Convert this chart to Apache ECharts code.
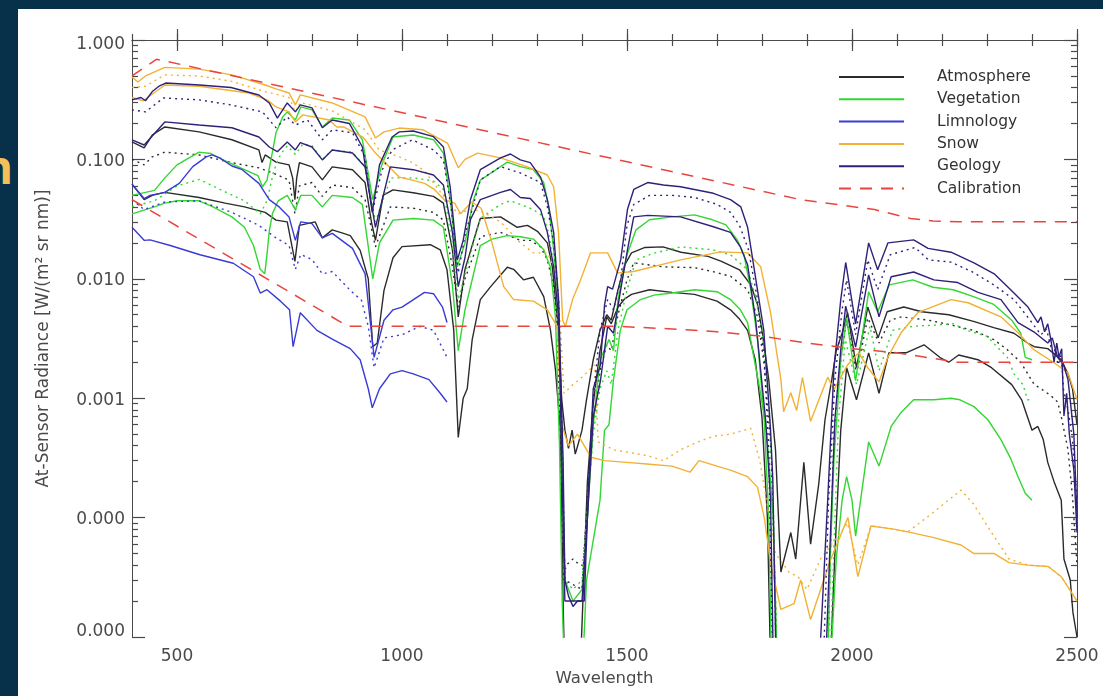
<!DOCTYPE html>
<html>
<head>
<meta charset="utf-8">
<script src="https://cdn.jsdelivr.net/npm/echarts@6/dist/echarts.min.js"></script>
<style>
  html, body { margin: 0; padding: 0; background: #07304a; width: 1103px; height: 696px; overflow: hidden; }
  #panel { position: absolute; left: 18px; top: 9px; width: 1085px; height: 687px; background: #fff; }
  #chart { position: absolute; left: 0; top: 0; width: 1103px; height: 696px; }
  #edge { position: absolute; left: -17px; top: 143px; font: bold 46px "Noto Sans", sans-serif; line-height: 46px; color: #f4c05a; }
</style>
</head>
<body>
<div id="edge">n</div>
<div id="panel"></div>
<div id="chart"></div>
<script>
// spectra: [wavelength nm, radiance]; values under 1e-5 are below the plot floor
const legendNames = ['Atmosphere', 'Vegetation', 'Limnology', 'Snow', 'Geology', 'Calibration'];
const xMajor = [500, 1000, 1500, 2000, 2500];

const atmosHigh = [[400,0.14],[427,0.125],[445,0.16],[473,0.187],[549,0.17],[622,0.146],[682,0.12],[689,0.094],[696,0.109],[720,0.095],[749,0.09],[757,0.07],[762,0.046],[766,0.07],[772,0.094],[800,0.0865],[823,0.0674],[845,0.0865],[890,0.082],[918,0.064],[932,0.03],[941,0.021],[958,0.05],[980,0.0556],[1025,0.0525],[1070,0.049],[1092,0.043],[1112,0.0175],[1125,0.0048],[1140,0.012],[1168,0.027],[1174,0.032],[1219,0.033],[1256,0.027],[1279,0.028],[1301,0.025],[1323,0.02],[1334,0.0126],[1345,0.0048],[1355,0.00097],[1362,0.00054],[1370,0.00038],[1378,0.00054],[1385,0.00034],[1392,0.00042],[1400,0.00054],[1410,0.00097],[1425,0.0021],[1440,0.0037],[1455,0.005],[1465,0.0045],[1480,0.0081],[1495,0.0131],[1510,0.0165],[1540,0.0183],[1580,0.0185],[1620,0.0167],[1680,0.0154],[1710,0.014],[1750,0.0119],[1775,0.0089],[1790,0.0061],[1800,0.0037],[1815,0.00143],[1830,0.00037],[1842,0.000035],[1864,0.000075],[1875,0.000045],[1893,0.00029],[1908,0.00006],[1926,0.00019],[1940,0.00066],[1955,0.00143],[1965,0.0025],[1980,0.0037],[1990,0.0052],[2010,0.0018],[2035,0.0058],[2058,0.0032],[2078,0.0053],[2115,0.0058],[2155,0.0053],[2215,0.005],[2270,0.0044],[2315,0.0039],[2360,0.0035],[2390,0.0029],[2405,0.0027],[2435,0.0026],[2465,0.0021],[2480,0.0016],[2490,0.0012],[2500,0.0006]];
const atmosMid = [[400,0.1],[427,0.09],[445,0.105],[473,0.115],[549,0.109],[622,0.094],[682,0.085],[720,0.075],[749,0.067],[762,0.035],[772,0.06],[800,0.064],[823,0.049],[845,0.061],[890,0.058],[918,0.046],[941,0.0185],[974,0.04],[1025,0.039],[1070,0.036],[1092,0.031],[1112,0.0126],[1125,0.0058],[1140,0.01],[1174,0.0225],[1219,0.0245],[1263,0.021],[1285,0.021],[1308,0.0185],[1323,0.0144],[1337,0.0086],[1345,0.004],[1352,0.0004],[1358,0.00003],[1365,0.00004],[1380,0.000045],[1395,0.00004],[1402,0.00004],[1410,0.0001],[1425,0.0006],[1440,0.0017],[1455,0.0028],[1465,0.0025],[1480,0.005],[1500,0.0098],[1515,0.0136],[1580,0.0126],[1650,0.0124],[1690,0.0115],[1730,0.0105],[1768,0.0081],[1790,0.0048],[1805,0.0019],[1820,0.00037],[1830,0.00002],[1835,0.000004],[1945,0.000004],[1952,0.00005],[1960,0.00054],[1975,0.0021],[1988,0.0045],[2010,0.0016],[2035,0.0047],[2060,0.0029],[2085,0.0045],[2110,0.0048],[2170,0.0045],[2220,0.0041],[2270,0.0037],[2315,0.0031],[2345,0.00255],[2375,0.002],[2405,0.0013],[2420,0.0012],[2442,0.00105],[2457,0.00093],[2465,0.0007],[2480,0.00037],[2490,0.00015],[2500,0.00004]];
const atmosLow = [[400,0.062],[427,0.046],[445,0.05],[473,0.053],[549,0.048],[607,0.043],[650,0.04],[696,0.036],[720,0.031],[745,0.03],[762,0.014],[772,0.028],[807,0.03],[823,0.022],[845,0.0257],[870,0.024],[885,0.023],[907,0.0173],[925,0.01],[935,0.0027],[945,0.0029],[960,0.008],[980,0.015],[1000,0.0186],[1063,0.0193],[1085,0.0175],[1100,0.0119],[1115,0.0037],[1125,0.00047],[1136,0.001],[1145,0.0012],[1156,0.0031],[1174,0.0067],[1197,0.0086],[1234,0.0125],[1248,0.012],[1270,0.0098],[1292,0.0103],[1315,0.0071],[1330,0.0037],[1341,0.00173],[1352,0.00054],[1358,0.00002],[1362,0.000004],[1395,0.000004],[1402,0.00002],[1412,0.0002],[1425,0.0009],[1440,0.0025],[1455,0.0048],[1465,0.0042],[1480,0.0058],[1495,0.0068],[1510,0.0074],[1550,0.0081],[1600,0.0077],[1650,0.0074],[1700,0.0065],[1730,0.0055],[1750,0.0046],[1768,0.0037],[1785,0.0021],[1800,0.00069],[1812,0.0001],[1820,0.000004],[1950,0.000004],[1962,0.00005],[1975,0.00054],[1988,0.0018],[2010,0.00097],[2037,0.0024],[2060,0.0011],[2082,0.0024],[2120,0.0024],[2160,0.0028],[2195,0.0022],[2215,0.002],[2237,0.0023],[2280,0.0021],[2310,0.0018],[2355,0.0013],[2377,0.00097],[2400,0.00054],[2413,0.00058],[2425,0.00045],[2435,0.00029],[2449,0.0002],[2465,0.00014],[2471,0.000045],[2485,0.00003],[2491,0.000016],[2500,0.00001]];

const vegHigh = [[400,0.05],[450,0.055],[473,0.07],[500,0.09],[549,0.115],[575,0.112],[600,0.1],[650,0.082],[680,0.073],[690,0.059],[700,0.067],[710,0.105],[720,0.167],[735,0.227],[745,0.25],[763,0.214],[775,0.275],[800,0.26],[823,0.187],[845,0.222],[883,0.214],[912,0.146],[935,0.046],[955,0.09],[980,0.154],[1025,0.16],[1070,0.146],[1092,0.113],[1107,0.046],[1123,0.0126],[1140,0.02],[1159,0.046],[1174,0.067],[1219,0.087],[1234,0.095],[1263,0.087],[1292,0.082],[1315,0.064],[1326,0.04],[1337,0.0175],[1348,0.0058],[1356,0.0003],[1362,0.00003],[1380,0.00002],[1400,0.000025],[1412,0.0001],[1425,0.0006],[1440,0.0021],[1460,0.0031],[1470,0.0025],[1480,0.0067],[1500,0.0159],[1520,0.0257],[1550,0.0312],[1600,0.033],[1650,0.0343],[1690,0.0312],[1720,0.0283],[1745,0.0212],[1760,0.0159],[1775,0.0081],[1790,0.0031],[1805,0.00066],[1815,0.0001],[1822,0.000004],[1945,0.000004],[1952,0.00005],[1960,0.00031],[1975,0.0021],[1988,0.0047],[2008,0.0014],[2037,0.0078],[2057,0.0053],[2083,0.0089],[2135,0.0098],[2180,0.0085],[2225,0.0081],[2270,0.0071],[2315,0.0061],[2355,0.0045],[2375,0.0035],[2385,0.0022],[2400,0.0021]];
const vegMid = [[400,0.04],[450,0.045],[500,0.06],[550,0.068],[600,0.055],[650,0.045],[685,0.035],[700,0.045],[715,0.08],[730,0.11],[745,0.13],[763,0.11],[780,0.135],[800,0.13],[823,0.1],[845,0.12],[890,0.115],[918,0.087],[941,0.03],[975,0.07],[1025,0.07],[1070,0.066],[1092,0.056],[1110,0.021],[1125,0.0067],[1150,0.015],[1174,0.032],[1219,0.042],[1240,0.045],[1263,0.042],[1292,0.038],[1315,0.033],[1326,0.024],[1337,0.013],[1348,0.004],[1356,0.0002],[1362,0.00003],[1380,0.000025],[1400,0.00003],[1412,0.00012],[1425,0.0005],[1440,0.0012],[1455,0.0017],[1465,0.0013],[1480,0.0037],[1500,0.0081],[1520,0.0144],[1560,0.0164],[1620,0.0185],[1690,0.0175],[1730,0.0159],[1768,0.0119],[1785,0.0073],[1800,0.0037],[1815,0.00097],[1825,0.00014],[1832,0.000004],[1950,0.000004],[1960,0.00006],[1970,0.00066],[1985,0.0031],[2010,0.0013],[2040,0.004],[2060,0.0017],[2090,0.0037],[2135,0.004],[2185,0.0041],[2225,0.0042],[2255,0.0037],[2300,0.0033],[2345,0.0022],[2360,0.0016],[2380,0.0013],[2390,0.00097],[2400,0.00097]];
const vegLow = [[400,0.035],[430,0.038],[450,0.04],[473,0.043],[500,0.045],[549,0.045],[580,0.04],[622,0.033],[650,0.027],[670,0.019],[685,0.012],[695,0.011],[700,0.016],[705,0.025],[712,0.035],[725,0.045],[745,0.05],[763,0.038],[775,0.05],[800,0.05],[823,0.04],[845,0.05],[890,0.048],[912,0.042],[935,0.01],[950,0.02],[980,0.031],[1025,0.032],[1070,0.031],[1092,0.027],[1112,0.0089],[1125,0.0025],[1140,0.0055],[1174,0.019],[1200,0.0215],[1234,0.023],[1263,0.0225],[1292,0.0215],[1315,0.0175],[1330,0.0125],[1341,0.0048],[1350,0.0004],[1356,0.00002],[1362,0.000004],[1400,0.000004],[1410,0.00003],[1420,0.00005],[1440,0.00014],[1450,0.00054],[1460,0.0006],[1470,0.00143],[1485,0.0037],[1500,0.0055],[1530,0.0067],[1560,0.0073],[1600,0.0076],[1650,0.0081],[1700,0.0078],[1730,0.0067],[1752,0.0055],[1768,0.0043],[1780,0.0024],[1795,0.0012],[1810,0.00054],[1825,0.0001],[1835,0.000004],[1950,0.000004],[1965,0.000045],[1978,0.00014],[1988,0.00022],[2000,0.00014],[2008,0.00007],[2037,0.00043],[2060,0.00027],[2087,0.00058],[2109,0.00076],[2137,0.00097],[2182,0.00097],[2220,0.001],[2240,0.00097],[2271,0.00085],[2302,0.00066],[2331,0.00045],[2353,0.00031],[2369,0.00022],[2385,0.00016],[2400,0.00014]];

const limnoHigh = [[400,0.062],[427,0.047],[440,0.05],[473,0.053],[505,0.063],[535,0.087],[565,0.105],[578,0.109],[595,0.103],[622,0.088],[645,0.082],[682,0.063],[705,0.046],[727,0.04],[749,0.033],[763,0.021],[775,0.03],[800,0.029],[823,0.022],[845,0.024],[890,0.018],[918,0.011],[938,0.0022],[960,0.0045],[980,0.0055],[1000,0.0058],[1050,0.0077],[1070,0.0075],[1090,0.0058],[1100,0.0043]];
const limnoMid = [[400,0.046],[427,0.038],[473,0.044],[549,0.045],[622,0.036],[682,0.028],[720,0.022],[749,0.019],[763,0.012],[775,0.016],[800,0.0145],[823,0.011],[845,0.0115],[885,0.008],[910,0.0066],[925,0.004],[938,0.0018],[960,0.0032],[1000,0.0034],[1040,0.004],[1070,0.0037],[1100,0.0022]];
const limnoLow = [[400,0.027],[427,0.021],[440,0.0212],[485,0.019],[551,0.0159],[625,0.0135],[670,0.0104],[685,0.0076],[700,0.0081],[730,0.0065],[750,0.0055],[758,0.0027],[774,0.0052],[811,0.0037],[847,0.0031],[885,0.0026],[907,0.0021],[925,0.0012],[934,0.00083],[950,0.0012],[974,0.0016],[1000,0.0017],[1025,0.0016],[1060,0.00143],[1085,0.0011],[1100,0.00093]];

const snowHigh = [[400,0.49],[413,0.445],[430,0.5],[473,0.59],[549,0.57],[622,0.51],[696,0.42],[720,0.39],[749,0.36],[763,0.286],[774,0.347],[845,0.297],[918,0.227],[941,0.151],[960,0.17],[994,0.183],[1047,0.177],[1101,0.137],[1125,0.085],[1140,0.1],[1168,0.113],[1219,0.103],[1279,0.0865],[1323,0.074],[1337,0.059],[1348,0.024],[1357,0.0045],[1363,0.004],[1379,0.0067],[1397,0.0098],[1419,0.0165],[1457,0.0165],[1479,0.0112],[1515,0.0115],[1619,0.0144],[1708,0.0168],[1768,0.0165],[1797,0.0126],[1819,0.0052],[1842,0.00143],[1848,0.00077],[1864,0.00111],[1877,0.00079],[1890,0.00149],[1908,0.00064],[1946,0.0015],[1960,0.00118],[1990,0.0019],[2015,0.0024],[2035,0.0018],[2060,0.00137],[2080,0.00222],[2109,0.00353],[2146,0.0052],[2220,0.0067],[2258,0.0063],[2331,0.0048],[2369,0.00353],[2404,0.00255],[2449,0.00198],[2480,0.00163],[2500,0.00097]];
const snowMid = [[400,0.4],[430,0.41],[473,0.51],[549,0.5],[622,0.45],[696,0.37],[749,0.33],[763,0.25],[774,0.3],[845,0.255],[918,0.177],[949,0.12],[994,0.105],[1023,0.094],[1050,0.08],[1100,0.045],[1125,0.035],[1150,0.038],[1174,0.037],[1219,0.03],[1263,0.02],[1292,0.0165],[1323,0.0165],[1340,0.012],[1352,0.004],[1360,0.0011],[1380,0.0013],[1400,0.0015],[1428,0.0019],[1436,0.00043],[1470,0.00037],[1546,0.00033],[1581,0.0003],[1619,0.00037],[1657,0.00043],[1692,0.00048],[1730,0.0005],[1775,0.00056],[1795,0.0003],[1810,0.00014],[1830,0.00005],[1860,0.000035],[1880,0.000032],[1900,0.000025],[1930,0.000045],[1955,0.00006],[1990,0.00009],[2013,0.00004],[2042,0.000085],[2093,0.00008],[2124,0.000076],[2180,0.00011],[2242,0.00017],[2270,0.00013],[2310,0.000075],[2349,0.000045],[2391,0.00004],[2436,0.000039],[2465,0.000032],[2493,0.000022],[2500,0.00002]];
const snowLow = [[400,0.33],[425,0.31],[473,0.42],[549,0.41],[660,0.36],[700,0.315],[720,0.275],[749,0.25],[763,0.206],[780,0.236],[838,0.214],[855,0.187],[870,0.187],[913,0.154],[941,0.113],[972,0.0865],[994,0.071],[1023,0.067],[1050,0.063],[1072,0.056],[1094,0.046],[1117,0.043],[1130,0.035],[1155,0.044],[1176,0.039],[1200,0.02],[1226,0.0086],[1248,0.0067],[1292,0.0065],[1323,0.0055],[1345,0.004],[1355,0.0006],[1370,0.0004],[1390,0.0005],[1420,0.00032],[1450,0.0003],[1500,0.00029],[1550,0.00028],[1600,0.00027],[1640,0.00024],[1660,0.0003],[1700,0.00027],[1730,0.00025],[1768,0.00022],[1790,0.00018],[1805,0.0001],[1820,0.00004],[1842,0.000017],[1871,0.000019],[1886,0.00003],[1908,0.000014],[1953,0.000045],[1991,0.0001],[2013,0.000032],[2042,0.000085],[2093,0.00008],[2124,0.000076],[2182,0.000068],[2242,0.000059],[2271,0.00005],[2316,0.00005],[2349,0.000042],[2391,0.00004],[2436,0.000039],[2465,0.000032],[2493,0.000022],[2500,0.00002]];

const geoHigh = [[400,0.315],[420,0.33],[430,0.31],[445,0.37],[460,0.41],[475,0.436],[550,0.42],[620,0.4],[682,0.346],[705,0.297],[723,0.222],[745,0.297],[763,0.25],[774,0.286],[800,0.27],[823,0.184],[845,0.214],[883,0.2],[912,0.127],[934,0.036],[950,0.09],[978,0.154],[994,0.17],[1025,0.173],[1070,0.155],[1092,0.127],[1107,0.059],[1123,0.0144],[1136,0.021],[1152,0.046],[1174,0.082],[1219,0.103],[1241,0.111],[1263,0.099],[1285,0.094],[1308,0.071],[1323,0.046],[1337,0.0245],[1348,0.0067],[1358,0.0003],[1362,0.00003],[1370,0.000022],[1380,0.000018],[1390,0.00002],[1405,0.00002],[1415,0.0002],[1425,0.0012],[1441,0.0019],[1450,0.006],[1457,0.0086],[1468,0.0082],[1486,0.0144],[1501,0.038],[1515,0.056],[1546,0.064],[1581,0.061],[1619,0.059],[1692,0.052],[1730,0.046],[1753,0.04],[1768,0.027],[1775,0.0185],[1804,0.0037],[1819,0.00054],[1824,0.00021],[1832,0.000004],[1925,0.000004],[1931,0.000011],[1946,0.00014],[1960,0.0018],[1975,0.0067],[1986,0.0137],[2008,0.0042],[2037,0.02],[2057,0.0119],[2080,0.02],[2137,0.0212],[2169,0.018],[2220,0.0167],[2271,0.0136],[2316,0.011],[2360,0.0076],[2391,0.0058],[2413,0.0043],[2420,0.0048],[2428,0.0036],[2435,0.0042],[2442,0.0031],[2449,0.002],[2455,0.0029],[2460,0.0022],[2466,0.0026],[2471,0.00071],[2477,0.0011],[2483,0.0005],[2493,0.00025],[2500,0.000075]];
const geoMid = [[400,0.26],[430,0.25],[470,0.327],[550,0.315],[620,0.286],[690,0.25],[720,0.184],[745,0.227],[763,0.194],[790,0.214],[823,0.146],[845,0.177],[890,0.167],[918,0.105],[934,0.036],[955,0.08],[978,0.12],[1023,0.146],[1047,0.132],[1070,0.12],[1092,0.099],[1110,0.038],[1125,0.0112],[1140,0.0233],[1174,0.0674],[1219,0.087],[1263,0.077],[1308,0.064],[1323,0.04],[1337,0.02],[1348,0.0067],[1355,0.00066],[1362,0.00003],[1400,0.000025],[1412,0.00015],[1425,0.001],[1440,0.0037],[1457,0.0067],[1470,0.0055],[1486,0.0098],[1500,0.028],[1515,0.042],[1550,0.05],[1600,0.05],[1650,0.048],[1700,0.042],[1730,0.036],[1750,0.028],[1770,0.0175],[1790,0.0067],[1805,0.0021],[1815,0.00037],[1825,0.000004],[1935,0.000004],[1948,0.00014],[1962,0.00143],[1978,0.0055],[1988,0.0098],[2008,0.0034],[2035,0.0144],[2057,0.0081],[2085,0.0159],[2140,0.0183],[2170,0.0144],[2220,0.0138],[2270,0.0113],[2315,0.0089],[2360,0.0067],[2390,0.0048],[2420,0.0034],[2432,0.0038],[2442,0.0027],[2450,0.00255],[2458,0.0019],[2465,0.0023],[2470,0.00118],[2480,0.0008],[2490,0.00045],[2500,0.00014]];
const geoLow = [[400,0.146],[427,0.132],[473,0.206],[549,0.194],[622,0.184],[682,0.154],[705,0.127],[723,0.116],[745,0.14],[763,0.12],[774,0.138],[800,0.127],[823,0.099],[845,0.12],[890,0.113],[918,0.0865],[941,0.027],[974,0.0865],[1025,0.082],[1070,0.074],[1092,0.061],[1112,0.0245],[1125,0.0086],[1140,0.015],[1152,0.0312],[1174,0.046],[1219,0.053],[1241,0.056],[1263,0.048],[1285,0.047],[1308,0.0378],[1323,0.0245],[1337,0.0126],[1348,0.0048],[1356,0.0002],[1362,0.00002],[1400,0.00002],[1412,0.0001],[1425,0.0007],[1441,0.0014],[1457,0.004],[1470,0.0035],[1486,0.0081],[1501,0.0175],[1515,0.033],[1546,0.034],[1619,0.033],[1692,0.0273],[1730,0.0245],[1752,0.0185],[1768,0.0131],[1786,0.0045],[1808,0.00066],[1819,0.00014],[1826,0.000004],[1940,0.000004],[1950,0.000045],[1962,0.00066],[1975,0.00255],[1986,0.0059],[2008,0.00268],[2037,0.0108],[2060,0.0048],[2087,0.0104],[2137,0.0114],[2182,0.0098],[2235,0.0093],[2280,0.0077],[2331,0.0067],[2369,0.0043],[2404,0.0036],[2435,0.0029],[2445,0.0032],[2457,0.0022],[2470,0.0019],[2480,0.00143],[2493,0.0005],[2500,0.0001]];

const calibHigh = [[400,0.5],[455,0.69],[1886,0.046],[2050,0.038],[2130,0.032],[2180,0.0305],[2235,0.03],[2500,0.03]];
const calibLow = [[400,0.046],[880,0.004],[1480,0.004],[1600,0.0038],[1700,0.0036],[1800,0.0033],[1900,0.0029],[2000,0.0026],[2100,0.0024],[2200,0.0021],[2230,0.002],[2500,0.002]];

const COLORS = {
  Atmosphere: '#2b2b2b', Vegetation: '#33d633', Limnology: '#3a3ad6',
  Snow: '#f2b132', Geology: '#2f2178', Calibration: '#e8453f'
};
const DOTTED = [2, 4];

const seriesDefs = [
  ['Atmosphere', atmosHigh, 'solid'], ['Atmosphere', atmosMid, DOTTED], ['Atmosphere', atmosLow, 'solid'],
  ['Vegetation', vegHigh, 'solid'], ['Vegetation', vegMid, DOTTED], ['Vegetation', vegLow, 'solid'],
  ['Limnology', limnoHigh, 'solid'], ['Limnology', limnoMid, DOTTED], ['Limnology', limnoLow, 'solid'],
  ['Snow', snowHigh, 'solid'], ['Snow', snowMid, DOTTED], ['Snow', snowLow, 'solid'],
  ['Geology', geoHigh, 'solid'], ['Geology', geoMid, DOTTED], ['Geology', geoLow, 'solid'],
  ['Calibration', calibHigh, [12, 9]], ['Calibration', calibLow, [12, 9]]
];

// log-decade minor tick positions (2..9 per decade), in log10 space
const yMinor = [];
for (let n = -5; n < 0; n++) {
  for (let k = 2; k <= 9; k++) yMinor.push(n + Math.log10(k));
}
const xMinor = [];
for (let w = 400; w <= 2500; w += 100) xMinor.push(w);

const AXIS_COLOR = '#4a4a4a';
const TEXT_COLOR = '#4a4a4a';
const FONT = 'DejaVu Sans';

function xAxisDef(pos, major) {
  return {
    type: 'value', position: pos, min: 400, max: 2500, gridIndex: 0,
    axisLine: { show: major, lineStyle: { color: AXIS_COLOR, width: 1 } },
    axisTick: { show: true, inside: true, length: major ? 11 : 6, customValues: major ? xMajor : xMinor,
      lineStyle: { color: AXIS_COLOR, width: 1.2 } },
    axisLabel: { show: major && pos === 'bottom', customValues: xMajor, color: TEXT_COLOR,
      fontSize: 17, fontFamily: FONT, margin: 11, formatter: v => String(v) },
    splitLine: { show: false },
    name: major && pos === 'bottom' ? 'Wavelength' : '',
    nameLocation: 'middle', nameGap: 33,
    nameTextStyle: { color: TEXT_COLOR, fontSize: 16.5, fontFamily: FONT }
  };
}

function yLabel(v) {
  const s = Math.pow(10, v).toFixed(3);
  if (v >= -0.001) return '{t|' + s + '}';
  if (v <= -4.999) return '{b|' + s + '}';
  return '{m|' + s + '}';
}

function yAxisDef(pos, major) {
  const labelStyle = { color: TEXT_COLOR, fontSize: 17, fontFamily: FONT };
  return {
    type: 'value', position: pos, min: -5, max: 0, gridIndex: 0,
    axisLine: { show: major, lineStyle: { color: AXIS_COLOR, width: 1 } },
    axisTick: { show: true, inside: true, length: major ? 13 : 6,
      customValues: major ? [-5, -4, -3, -2, -1, 0] : yMinor,
      lineStyle: { color: AXIS_COLOR, width: 1.2 } },
    axisLabel: { show: major && pos === 'left', customValues: [-5, -4, -3, -2, -1, 0], margin: 7,
      formatter: yLabel,
      rich: {
        t: Object.assign({ padding: [10, 0, 0, 0] }, labelStyle),
        m: Object.assign({ padding: [4, 0, 0, 0] }, labelStyle),
        b: Object.assign({ padding: [0, 0, 10, 0] }, labelStyle)
      } },
    splitLine: { show: false },
    name: major && pos === 'left' ? 'At-Sensor Radiance [W/(m\u00b2 sr nm)]' : '',
    nameLocation: 'middle', nameGap: 80,
    nameTextStyle: { color: TEXT_COLOR, fontSize: 17, fontFamily: FONT }
  };
}

const chart = echarts.init(document.getElementById('chart'), null, { renderer: 'canvas' });

chart.setOption({
  animation: false,
  backgroundColor: 'transparent',
  grid: { left: 132, right: 26, top: 40, bottom: 59, containLabel: false, outerBoundsMode: 'none' },
  legend: {
    orient: 'vertical', left: 838, top: 69, padding: 0,
    itemWidth: 65, itemHeight: 14, itemGap: 6.3,
    data: legendNames,
    itemStyle: { opacity: 0 },
    textStyle: { color: '#333', fontSize: 15.5, fontFamily: FONT, padding: [0, 0, 0, 28] }
  },
  xAxis: [xAxisDef('bottom', true), xAxisDef('bottom', false), xAxisDef('top', true), xAxisDef('top', false)],
  yAxis: [yAxisDef('left', true), yAxisDef('left', false), yAxisDef('right', true), yAxisDef('right', false)],
  series: seriesDefs.map(([name, pts, type]) => ({
    name: name,
    type: 'line',
    xAxisIndex: 0,
    yAxisIndex: 0,
    showSymbol: false,
    symbol: 'none',
    clip: true,
    data: pts.map(p => [p[0], Math.log10(p[1])]),
    lineStyle: { color: COLORS[name], width: name === 'Calibration' ? 1.5 : 1.4, type: type },
    itemStyle: { color: COLORS[name] },
    emphasis: { disabled: true }
  }))
});

window.addEventListener('resize', () => chart.resize());
</script>
</body>
</html>
